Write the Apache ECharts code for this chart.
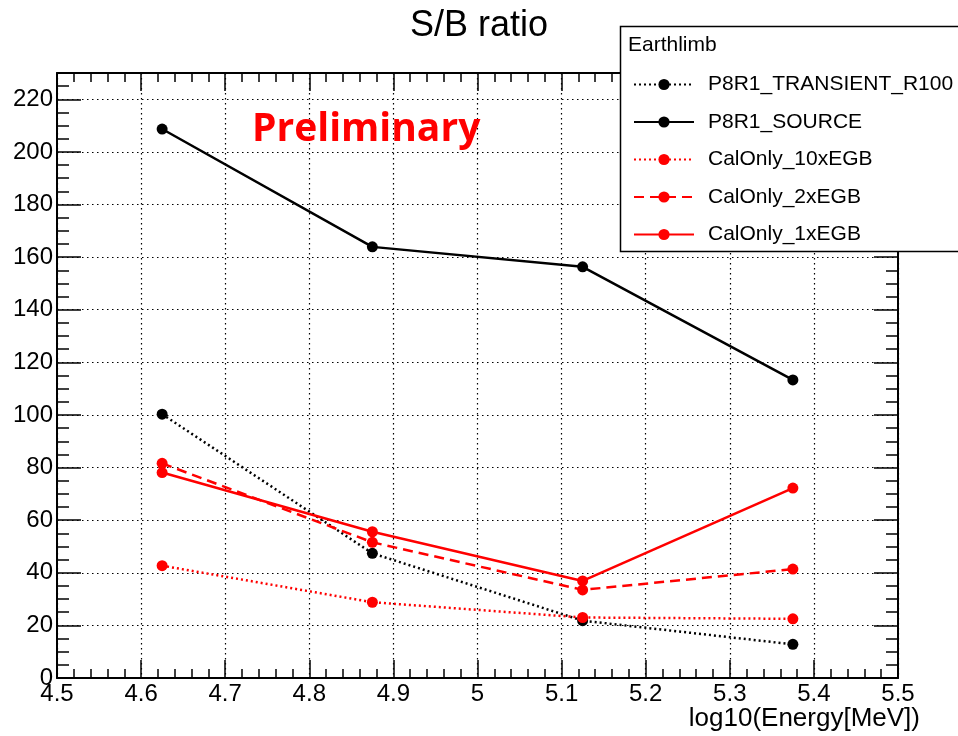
<!DOCTYPE html>
<html>
<head>
<meta charset="utf-8">
<script src="https://cdn.jsdelivr.net/npm/echarts@6/dist/echarts.min.js"></script>
<style>
  html, body { margin: 0; padding: 0; background: #fff; }
  #chart { width: 958px; height: 736px; }
</style>
</head>
<body>
<div id="chart"></div>
<script>
// energy bins, log10(E/MeV)
var energy = [4.625, 4.875, 5.125, 5.375]
var transientR100 = [100.3, 47.4, 21.8, 12.8]
var source = [208.7, 163.9, 156.3, 113.3]
var calOnly10x = [42.7, 28.8, 23.0, 22.5]
var calOnly2x = [81.6, 51.6, 33.5, 41.4]
var calOnly1x = [78.1, 55.6, 36.9, 72.2]
var xTicks = [4.5, 4.6, 4.7, 4.8, 4.9, 5, 5.1, 5.2, 5.3, 5.4, 5.5]
var yTicks = [0, 20, 40, 60, 80, 100, 120, 140, 160, 180, 200, 220]

var FONT = 'Liberation Sans, Arial, Helvetica, sans-serif'

function pairs(ys) {
  return energy.map(function (x, i) { return [x, ys[i]] })
}

function mkSeries(name, ys, color, type, width) {
  return {
    name: name,
    type: 'line',
    data: pairs(ys),
    symbol: 'circle',
    symbolSize: 11,
    itemStyle: { color: color },
    lineStyle: { color: color, width: width, type: type },
    emphasis: { disabled: true },
    z: 3
  }
}

var frameAxis = function (pos, isX, withLabels) {
  return {
    type: 'value',
    position: pos,
    min: isX ? 4.5 : 0,
    max: isX ? 5.5 : 230,
    interval: isX ? 0.1 : 20,
    axisLine: { show: true, onZero: false, lineStyle: { color: '#000', width: 2 } },
    axisTick: { show: true, inside: true, length: isX ? 18 : 24, lineStyle: { color: '#000', width: 1.5 } },
    minorTick: { show: true, splitNumber: isX ? 5 : 4, length: isX ? 9 : 12, lineStyle: { color: '#000', width: 1.5 } },
    axisLabel: {
      show: withLabels,
      fontFamily: FONT,
      fontSize: 24,
      color: '#000',
      margin: isX ? 4 : 4,
      formatter: function (v) {
        if (isX) return xTicks.indexOf(Math.round(v * 10) / 10) >= 0 ? String(Math.round(v * 10) / 10) : ''
        return yTicks.indexOf(v) >= 0 ? String(v) : ''
      }
    },
    splitLine: {
      show: withLabels,
      lineStyle: { color: '#000', width: 1.2, type: [1.5, 3.5] }
    }
  }
}

var xBottom = frameAxis('bottom', true, true)
xBottom.name = 'log10(Energy[MeV])'
xBottom.nameLocation = 'end'
xBottom.nameGap = 0
xBottom.nameTextStyle = {
  fontFamily: FONT, fontSize: 26, color: '#000',
  align: 'right', verticalAlign: 'top', padding: [28, -22, 0, 0]
}

var chart = echarts.init(document.getElementById('chart'))
chart.setOption({
  backgroundColor: '#fff',
  animation: false,
  title: {
    text: 'S/B ratio',
    left: 'center',
    top: 3,
    textStyle: { fontFamily: FONT, fontSize: 36, fontWeight: 'normal', color: '#000' }
  },
  grid: { left: 57, right: 60, top: 73, bottom: 58, outerBoundsMode: 'none', containLabel: false },
  xAxis: [xBottom, frameAxis('top', true, false)],
  yAxis: [frameAxis('left', false, true), frameAxis('right', false, false)],
  legend: {
    orient: 'vertical',
    left: 633,
    top: 74,
    padding: 0,
    itemWidth: 60,
    itemHeight: 14,
    itemGap: 16.5,
    z: 10,
    textStyle: { fontFamily: FONT, fontSize: 21, color: '#000', padding: [0, 0, 0, 9] },
    data: ['P8R1_TRANSIENT_R100', 'P8R1_SOURCE', 'CalOnly_10xEGB', 'CalOnly_2xEGB', 'CalOnly_1xEGB']
  },
  graphic: [
    {
      type: 'rect',
      z: 5,
      shape: { x: 620.5, y: 26.5, width: 360, height: 225 },
      style: { fill: '#fff', stroke: '#000', lineWidth: 1.5 }
    },
    {
      type: 'text',
      z: 6,
      left: 628,
      top: 35,
      style: { text: 'Earthlimb', font: '21px ' + FONT, fill: '#000' }
    },
    {
      type: 'text',
      z: 6,
      left: 252,
      top: 110,
      style: { text: 'Preliminary', font: 'bold 39px "Open Sans", sans-serif', fill: '#ff0000' }
    }
  ],
  series: [
    mkSeries('P8R1_TRANSIENT_R100', transientR100, '#000', [2, 3], 2.5),
    mkSeries('P8R1_SOURCE', source, '#000', 'solid', 2.5),
    mkSeries('CalOnly_10xEGB', calOnly10x, '#ff0000', [2, 3], 2.5),
    mkSeries('CalOnly_2xEGB', calOnly2x, '#ff0000', [10, 6], 2.5),
    mkSeries('CalOnly_1xEGB', calOnly1x, '#ff0000', 'solid', 2.5)
  ]
})
</script>
</body>
</html>
